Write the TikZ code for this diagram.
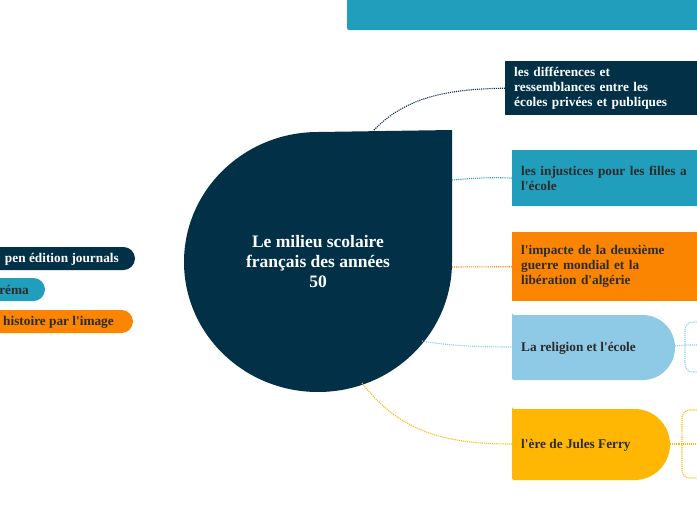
\documentclass[tikz,border=0pt]{standalone}
\usepackage{fontspec}
\setmainfont{Liberation Serif}[Ligatures=TeXOff]
\definecolor{navy}{HTML}{023047}
\definecolor{teal}{HTML}{219EBC}
\definecolor{lblue}{HTML}{8ECAE6}
\definecolor{gold}{HTML}{FFB703}
\definecolor{orng}{HTML}{FB8500}
\definecolor{ink}{HTML}{2B2B2B}
\begin{document}
\begin{tikzpicture}[x=1pt,y=-1pt,
  box/.style={anchor=north west, inner xsep=9pt, inner ysep=0pt, align=left,
    font=\bfseries\fontsize{13.3}{15}\selectfont},
  lbl/.style={font=\bfseries\fontsize{13.3}{15}\selectfont, inner sep=0pt},
  link/.style={densely dotted, line width=1.1pt}]
\useasboundingbox (0,0) rectangle (697,520);
\clip (0,0) rectangle (697,520);
\fill[white] (0,0) rectangle (697,520);

% top banner
\fill[teal, rounded corners=2pt] (347,-10) rectangle (710,30);

% central teardrop
\fill[navy] (452,130) -- (452,262) arc[start angle=0, end angle=-270, x radius=134pt, y radius=130pt] -- cycle;
\node[text=white, font=\bfseries\fontsize{17.5}{20}\selectfont, align=center] (hub) at (318,262)
  {Le milieu scolaire\\français des années\\50};

% hub anchor points
\coordinate (h1) at (374,130);
\coordinate (h2) at (452,180);
\coordinate (h3) at (452,267);
\coordinate (h4) at (422,341);
\coordinate (h5) at (362,383);

% right nodes
\node[box, fill=navy, text=white, text width=220pt, minimum height=54pt] (n1) at (505,61)
  {les différences et\\ressemblances entre les\\écoles privées et publiques};
\node[box, fill=teal, text=ink, text width=220pt, minimum height=56pt] (n2) at (512,150)
  {les injustices pour les filles a\\l'école};
\node[box, fill=orng, text=ink, text width=220pt, minimum height=69pt] (n3) at (512,232)
  {l'impacte de la deuxième\\guerre mondial et la\\libération d'algérie};

\fill[lblue] (512,315) [rounded corners=32.5pt] -- (675,315) -- (675,380) [rounded corners=2pt] -- (512,380) -- (512,315) -- cycle;
\node[lbl, anchor=west, text=ink] (n4) at (521,348) {La religion et l'école};
\coordinate (n4e) at (675,346);

\fill[gold] (512,409) [rounded corners=35.5pt] -- (670,409) -- (670,480) [rounded corners=2pt] -- (512,480) -- (512,409) -- cycle;
\node[lbl, anchor=west, text=ink] (n5) at (521,445) {l'ère de Jules Ferry};
\coordinate (n5e) at (670,444);

% connectors
\draw[link, navy] (h1) .. controls (405,98) and (445,89) .. (n1.west);
\draw[link, teal] (h2) .. controls (475,178) and (495,177) .. (n2.west);
\draw[link, orng] (h3) -- (n3.west);
\draw[link, lblue] (h4) .. controls (450,346) and (480,347) .. (512,347);
\draw[link, gold] (h5) .. controls (400,432) and (445,444) .. (512,444);

% right brackets
\coordinate (b4) at (685,345);
\draw[link, lblue] (n4e) -- (b4) -- (705,345);
\draw[link, lblue, rounded corners=8pt] (705,322) -- (685,322) -- (685,372) -- (705,372);
\coordinate (b5) at (682,444);
\draw[link, gold] (n5e) -- (b5) -- (705,444);
\draw[link, gold, rounded corners=8pt] (705,410) -- (682,410) -- (682,478) -- (705,478);

% left pills
\fill[navy, rounded corners=11.5pt] (-30,247) rectangle (135,270);
\node[lbl, anchor=east, text=white] (p1) at (119,259) {pen édition journals};
\fill[teal, rounded corners=11.5pt] (-30,278) rectangle (45,301);
\node[lbl, anchor=east, text=ink] (p2) at (29,290) {réma};
\fill[orng, rounded corners=11.5pt] (-30,310) rectangle (133,333);
\node[lbl, anchor=east, text=ink] (p3) at (114,322) {histoire par l'image};
\end{tikzpicture}
\end{document}
